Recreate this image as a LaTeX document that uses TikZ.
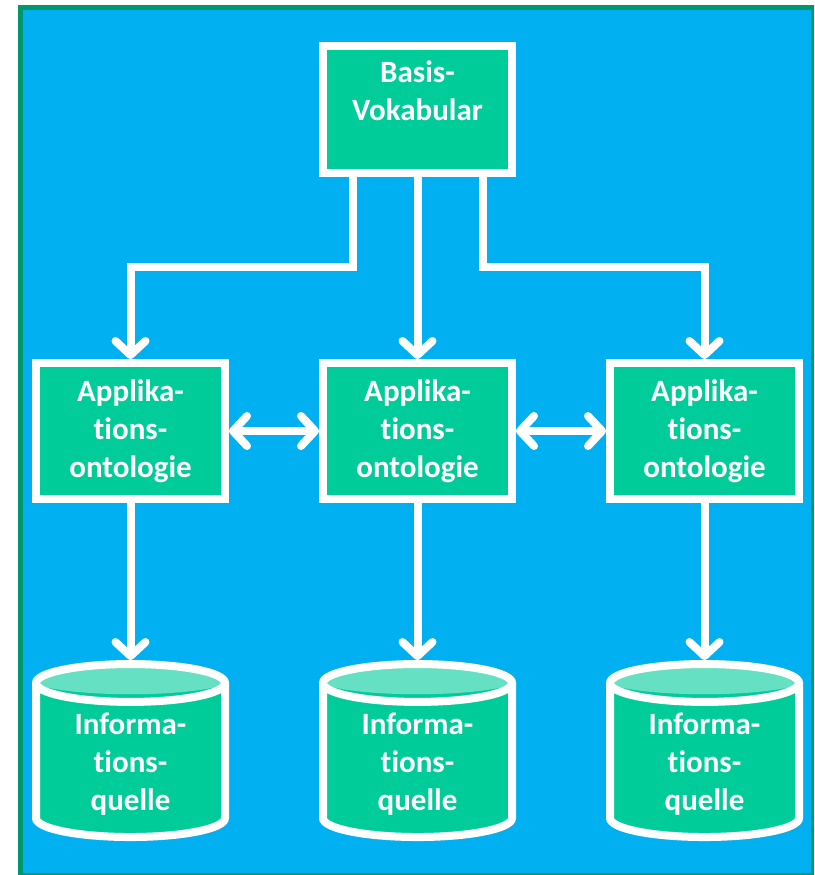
\documentclass[tikz,border=0pt]{standalone}
\usepackage{fontspec}
\setmainfont[Ligatures={NoCommon}]{Carlito}
\usetikzlibrary{shapes.geometric,shadows,arrows.meta}
\definecolor{bgblue}{RGB}{0,176,240}
\definecolor{framegreen}{RGB}{0,150,110}
\definecolor{boxgreen}{RGB}{0,204,153}
\definecolor{capgreen}{RGB}{102,224,194}

\begin{document}
\begin{tikzpicture}[x=1pt,y=-1pt,
		lbl/.style={text=white,font=\bfseries\fontsize{31}{38}\selectfont,align=center},
		box/.style={lbl,draw=white,line width=8pt,fill=boxgreen,minimum width=189pt,minimum height=136pt,
			drop shadow={shadow xshift=3pt,shadow yshift=-4pt,opacity=0.3}},
		store/.style={lbl,shape=cylinder,shape border rotate=90,aspect=0.32,draw=white,line width=8pt,
			fill=boxgreen,minimum width=189pt,minimum height=173pt,
			path picture={\fill[capgreen] ([yshift=-15.1pt]path picture bounding box.north) ellipse (100pt and 15.1pt);},
			drop shadow={shadow xshift=3pt,shadow yshift=-4pt,opacity=0.3}},
		wire/.style={draw=white,line width=8pt,
			preaction={draw=bgblue!75!black,transform canvas={shift={(2pt,-3pt)}}}},
		arr/.style={wire,-{Straight Barb[length=14pt,width=30pt,round]}},
		dbl/.style={wire,{Straight Barb[length=14pt,width=30pt,round]}-{Straight Barb[length=14pt,width=30pt,round]}}]
	\useasboundingbox (0,0) rectangle (814,875);
	\clip (0,0) rectangle (814,875);
	\fill[bgblue] (20.5,7.5) rectangle (813.5,875.5);
	\draw[framegreen,line width=5pt] (20.5,7.5) rectangle (813.5,875.5);

	\node[box,minimum height=127pt,text depth=38pt] (basis) at (417.5,109.5) {Basis-\\Vokabular};
	\node[box] (app1) at (130.5,431) {Applika-\\tions-\\ontologie};
	\node[box] (app2) at (417.5,431) {Applika-\\tions-\\ontologie};
	\node[box] (app3) at (704.5,431) {Applika-\\tions-\\ontologie};
	\node[store] (src1) at (130.5,764.5) {Informa-\\tions-\\quelle};
	\node[store] (src2) at (417.5,764.5) {Informa-\\tions-\\quelle};
	\node[store] (src3) at (704.5,764.5) {Informa-\\tions-\\quelle};
	\coordinate (split) at (417.5,267);

	\draw[arr] ([xshift=-65pt]basis.south) |- (split -| app1.north) -- (app1.north);
	\draw[arr] (basis.south) -- (app2.north);
	\draw[arr] ([xshift=65pt]basis.south) |- (split -| app3.north) -- (app3.north);
	\draw[dbl] (app1.east) -- (app2.west);
	\draw[dbl] (app2.east) -- (app3.west);
	\draw[arr] (app1.south) -- (src1.north);
	\draw[arr] (app2.south) -- (src2.north);
	\draw[arr] (app3.south) -- (src3.north);
\end{tikzpicture}
\end{document}
